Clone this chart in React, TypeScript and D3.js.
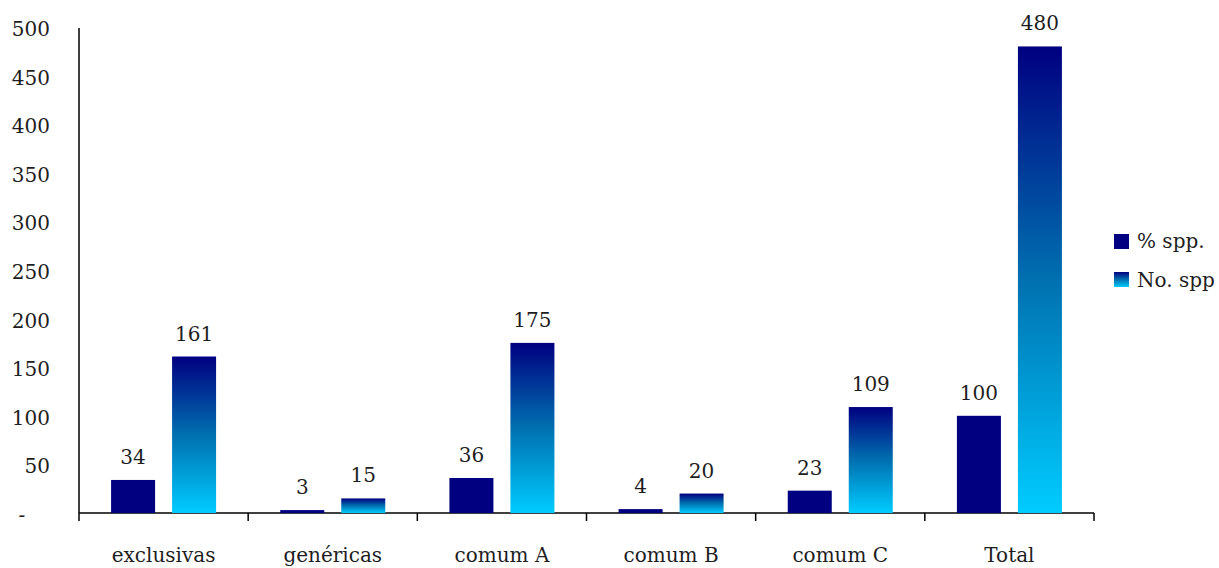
import React from "react";
import * as d3 from "d3";

const categories = ["exclusivas", "genéricas", "comum A", "comum B", "comum C", "Total"];
const pctSpp = [34, 3, 36, 4, 23, 100];
const noSpp = [161, 15, 175, 20, 109, 480];
const yTicks = [0, 50, 100, 150, 200, 250, 300, 350, 400, 450, 500];
const seriesNames = ["% spp.", "No. spp"];

const W = 1219;
const H = 568;
const left = 79;
const right = 1094;
const baseY = 513;
const topY = 28;
const TEXT = "#1e1e1e";
const txt: React.CSSProperties = { fontFamily: "'DejaVu Serif'", fontSize: "20px" };

export default function App() {
  const x = d3.scaleBand<string>().domain(categories).range([left, right]).padding(0);
  const y = d3.scaleLinear().domain([0, 500]).range([baseY, 27]);
  const barW = 44;
  const off = 30.5;
  const bw = x.bandwidth();

  return (
    <svg width={W} height={H} style={{ position: "absolute", left: 0, top: 0, background: "#fff" }}>
      <defs>
        <linearGradient id="grad" x1="0" y1="0" x2="0" y2="1">
          <stop offset="0" stopColor="#000080" />
          <stop offset="0.5" stopColor="#0070B0" />
          <stop offset="1" stopColor="#00CCFF" />
        </linearGradient>
      </defs>
      <line x1={left} y1={topY} x2={left} y2={baseY} stroke="#000" strokeWidth={1.5} />
      <line x1={left} y1={baseY} x2={right} y2={baseY} stroke="#000" strokeWidth={1.5} />
      {d3.range(categories.length + 1).map((i) => {
        const xx = left + i * bw;
        return <line key={"t" + i} x1={xx} y1={baseY} x2={xx} y2={baseY + 8} stroke="#000" strokeWidth={1.5} />;
      })}
      {yTicks.map((t) =>
        t === 0 ? (
          <text key={t} x={22} y={y(t) + 9} style={txt} fill={TEXT} textAnchor="middle">
            -
          </text>
        ) : (
          <text key={t} x={50} y={y(t) + 9} style={txt} fill={TEXT} textAnchor="end">
            {t}
          </text>
        )
      )}
      {categories.map((c, i) => {
        const cx = (x(c) as number) + bw / 2;
        return (
          <g key={c}>
            <rect x={cx - off - barW / 2} y={y(pctSpp[i])} width={barW} height={baseY - y(pctSpp[i])} fill="#000080" />
            <rect x={cx + off - barW / 2} y={y(noSpp[i])} width={barW} height={baseY - y(noSpp[i])} fill="url(#grad)" />
            <text x={cx - off} y={y(pctSpp[i]) - 16} style={txt} fill={TEXT} textAnchor="middle">
              {pctSpp[i]}
            </text>
            <text x={cx + off} y={y(noSpp[i]) - 16} style={txt} fill={TEXT} textAnchor="middle">
              {noSpp[i]}
            </text>
            <text x={cx} y={562} style={txt} fill={TEXT} textAnchor="middle">
              {c}
            </text>
          </g>
        );
      })}
      <rect x={1114} y={234} width={15} height={15} fill="#000080" />
      <text x={1137} y={248} style={txt} fill={TEXT}>
        {seriesNames[0]}
      </text>
      <rect x={1114} y={272} width={15} height={15} fill="url(#grad)" />
      <text x={1137} y={287} style={txt} fill={TEXT}>
        {seriesNames[1]}
      </text>
    </svg>
  );
}
